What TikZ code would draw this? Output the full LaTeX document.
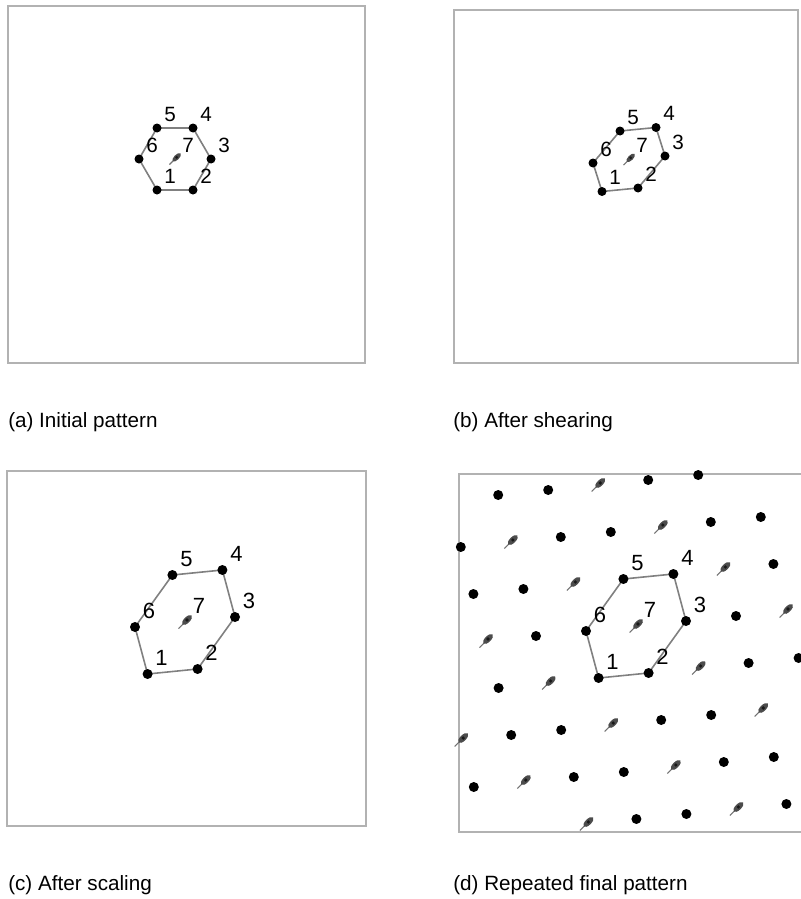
\documentclass[tikz,border=0pt]{standalone}
\usepackage{fontspec}
\setmainfont{Liberation Sans}
\tikzset{
  frame/.style={draw=black!30, line width=1.6pt},
  hexline/.style={draw=black!50, line width=1.2pt},
  lbl/.style={inner sep=0pt},
  caption/.style={anchor=west, inner sep=0pt, font=\fontsize{15.5}{15.5}\selectfont},
  site/.pic={
    \draw[black!55, line width=0.8pt] (-6.5,6.5) -- (0,0);
    \fill[black!70, shift={(2,-2)}, rotate=45] (0,0) ellipse (6.5 and 3);
    \fill[black!90] (2,-2) circle (1.8);
  }
}
\begin{document}
\begin{tikzpicture}[x=0.75pt, y=-0.75pt]
\useasboundingbox (0,0) rectangle (800,899);
% frames
\draw[frame] (8,6) rectangle (365,363);
\draw[frame] (454,10) rectangle (798,363);
\draw[frame] (7,471) rectangle (366,826);
\draw[frame] (805,474) -- (459,474) -- (459,832) -- (805,832);
% the four hexagons
\foreach \n/\cx/\cy/\ax/\ay/\bx/\by/\r/\s/\lx/\ly/\fs in {
  a/175/159/36/0/18/31/4.5/0.85/13/-14/15.5,
  b/629/159.5/36/-3.5/9/28.5/4.5/0.85/13/-14/15.5,
  c/185/622/50/-5/12.6/47/5/1/14/-16/16.5,
  d/636/626/50/-5/12.6/47/5/1/14/-16/16.5}{
  \coordinate (\n7) at (\cx,\cy);
  \coordinate (\n1) at ({\cx+(\bx)-(\ax)},{\cy+(\by)-(\ay)});
  \coordinate (\n2) at ({\cx+(\bx)},{\cy+(\by)});
  \coordinate (\n3) at ({\cx+(\ax)},{\cy+(\ay)});
  \coordinate (\n4) at ({\cx+(\ax)-(\bx)},{\cy+(\ay)-(\by)});
  \coordinate (\n5) at ({\cx-(\bx)},{\cy-(\by)});
  \coordinate (\n6) at ({\cx-(\ax)},{\cy-(\ay)});
  \draw[hexline] (\n1) -- (\n2) -- (\n3) -- (\n4) -- (\n5) -- (\n6) -- cycle;
  \foreach \k in {1,...,6} \fill (\n\k) circle (\r);
  \pic[scale=\s] at (\n7) {site};
  \foreach \k in {1,...,7}
    \node[lbl, font=\fontsize{\fs}{\fs}\selectfont] (l\n\k) at ([shift={(\lx,\ly)}]\n\k) {\k};
}
% repeated lattice in (d)
\foreach \i in {-5,...,5}{
  \foreach \j in {-5,...,5}{
    \pgfmathsetmacro\px{636+50*(\i)+12.6*(\j)}
    \pgfmathsetmacro\py{626-5*(\i)+47*(\j)}
    \pgfmathtruncatemacro\keep{(\px>455)&&(\px<801)&&(\py>472)&&(\py<828)&&!((abs(\i)<2)&&(abs(\j)<2)&&(abs((\i)+(\j))<2))}
    \pgfmathtruncatemacro\kind{mod((\i)-(\j)+30,3)}
    \ifnum\keep=1
      \ifnum\kind=0 \pic at (\px,\py) {site}; \else \fill (\px,\py) circle (5); \fi
    \fi
  }
}
% captions
\node[caption] (capa) at (8,422) {(a) Initial pattern};
\node[caption] (capb) at (453,422) {(b) After shearing};
\node[caption] (capc) at (8,885) {(c) After scaling};
\node[caption] (capd) at (453,885) {(d) Repeated final pattern};
\end{tikzpicture}
\end{document}
